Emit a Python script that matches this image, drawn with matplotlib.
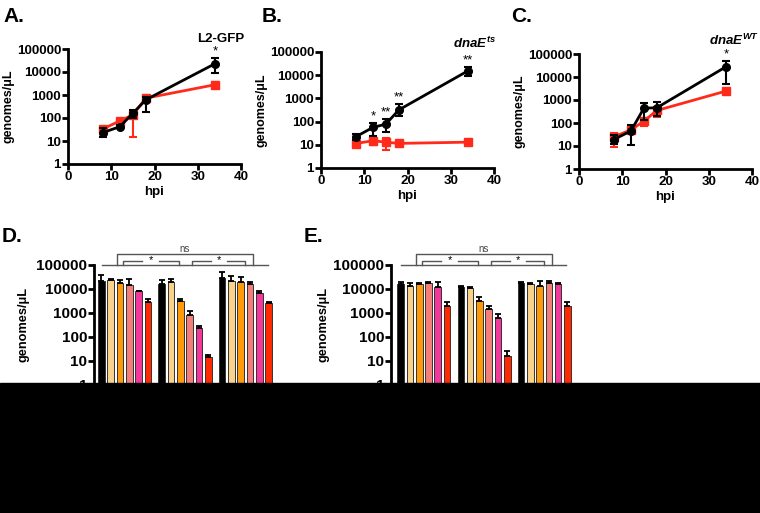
import numpy as np
import matplotlib
matplotlib.use("Agg")
import matplotlib.pyplot as plt
from matplotlib.patches import Rectangle
from matplotlib.ticker import FixedLocator, FixedFormatter, NullLocator

plt.rcParams["font.family"] = ["Liberation Sans", "DejaVu Sans"]
plt.rcParams["font.weight"] = "bold"
plt.rcParams["mathtext.fontset"] = "custom"
plt.rcParams["mathtext.it"] = "Liberation Sans:italic:bold"
plt.rcParams["mathtext.rm"] = "Liberation Sans:bold"

# time course data (hpi)
hpi = [8, 12, 15, 18, 34]

# panel A: L2-GFP
a_black = [23, 42, 160, 620, 23000]
a_black_lo = [15, 38, 100, 190, 9000]
a_black_hi = [36, 48, 220, 800, 40000]
a_red = [33, 75, 137, 730, 2800]
a_red_lo = [28, 55, 15, 560, 2000]
a_red_hi = [38, 95, 190, 870, 3600]
a_stars = ["", "", "", "", "*"]

# panel B: dnaE ts
b_black = [22, 56, 78, 320, 15500]
b_black_lo = [16, 23, 35, 175, 9500]
b_black_hi = [30, 90, 135, 560, 22000]
b_red = [11.3, 15, 13, 11.5, 13]
b_red_lo = [10, 10, 6, 10, 12]
b_red_hi = [12.5, 20, 20, 13, 14]
b_stars = ["", "*", "**", "**", "**"]

# panel C: dnaE WT
c_black = [19, 45, 440, 460, 28000]
c_black_lo = [12, 11, 140, 200, 5000]
c_black_hi = [30, 80, 760, 800, 50000]
c_red = [25, 50, 120, 350, 2450]
c_red_lo = [9, 35, 75, 180, 2200]
c_red_hi = [36, 65, 170, 520, 2700]
c_stars = ["", "", "", "", "*"]

# bar panels: 3 groups x 6 conditions
bar_colors = ["#000000", "#F8D28A", "#FF9A0A", "#F47F7A", "#F2389A", "#FF2A00"]

d_vals = [[22000, 23000, 18000, 14000, 8100, 2800],
          [16000, 19000, 3300, 810, 230, 14],
          [30000, 22000, 20000, 15600, 6600, 2600]]
d_errs = [[38000, 27000, 23000, 26000, 8500, 4000],
          [23000, 27000, 3700, 1200, 280, 17],
          [53000, 36000, 31000, 20000, 8000, 2750]]

e_vals = [[16000, 13500, 15500, 18000, 12000, 2000],
          [11700, 10500, 3200, 1500, 630, 16],
          [18000, 16000, 13700, 18000, 15500, 1900]]
e_errs = [[20000, 17000, 17000, 20000, 19000, 3000],
          [13000, 11700, 4800, 1900, 900, 26],
          [20000, 18500, 22000, 21500, 17000, 3000]]

W, H = 760, 513
fig = plt.figure(figsize=(W / 100, H / 100), dpi=100)


def ax_at(left, right, top, bottom):
    return fig.add_axes([left / W, 1 - bottom / H, (right - left) / W, (bottom - top) / H])


def style_log(ax, tsize, lsize, lx):
    ax.set_yscale("log")
    ax.set_ylim(1, 100000)
    yt = [1, 10, 100, 1000, 10000, 100000]
    ax.yaxis.set_major_locator(FixedLocator(yt))
    ax.yaxis.set_major_formatter(FixedFormatter([str(v) for v in yt]))
    ax.yaxis.set_minor_locator(NullLocator())
    for s in ["top", "right"]:
        ax.spines[s].set_visible(False)
    for s in ["left", "bottom"]:
        ax.spines[s].set_linewidth(2)
    ax.tick_params(width=2, length=4, labelsize=tsize, pad=1)
    for lab in ax.get_yticklabels() + ax.get_xticklabels():
        lab.set_fontweight("bold")
    ax.set_ylabel("genomes/μL", fontsize=lsize, fontweight="bold")
    ax.yaxis.set_label_coords(lx, 0.5)


def line_panel(ax, bk, bk_lo, bk_hi, rd, rd_lo, rd_hi, stars):
    rd_err = [np.subtract(rd, rd_lo), np.subtract(rd_hi, rd)]
    bk_err = [np.subtract(bk, bk_lo), np.subtract(bk_hi, bk)]
    ax.errorbar(hpi, rd, yerr=rd_err, color="#FF2A1A", marker="s", ms=5.5, lw=2,
                capsize=3, elinewidth=1.5, capthick=1.5, clip_on=False, zorder=3)
    ax.errorbar(hpi, bk, yerr=bk_err, color="black", marker="o", ms=5.5, lw=2,
                capsize=3, elinewidth=1.5, capthick=1.5, clip_on=False, zorder=4)
    for x, hi, s in zip(hpi, bk_hi, stars):
        if s:
            ax.text(x, hi * 1.05, s, ha="center", va="bottom", fontsize=9.5, fontweight="normal")
    ax.set_xlim(0, 40)
    ax.set_xticks([0, 10, 20, 30, 40])
    style_log(ax, 9.7, 9, -0.31)
    ax.set_xlabel("hpi", fontsize=9.5, fontweight="bold", labelpad=2)


axA = ax_at(68, 241, 49, 164)
line_panel(axA, a_black, a_black_lo, a_black_hi, a_red, a_red_lo, a_red_hi, a_stars)
axA.text(1.02, 1.09, "L2-GFP", transform=axA.transAxes, ha="right", va="center", fontsize=9.5, fontweight="bold")

axB = ax_at(321, 494, 52, 168)
line_panel(axB, b_black, b_black_lo, b_black_hi, b_red, b_red_lo, b_red_hi, b_stars)
axB.text(1.01, 1.07, r"$dnaE^{ts}$", transform=axB.transAxes, ha="right", va="center", fontsize=9.5)

axC = ax_at(579, 752, 54, 169)
line_panel(axC, c_black, c_black_lo, c_black_hi, c_red, c_red_lo, c_red_hi, c_stars)
axC.text(1.04, 1.12, r"$dnaE^{WT}$", transform=axC.transAxes, ha="right", va="center", fontsize=9.5)


def bar_panel(ax, vals, errs, xmin, xmax, lx):
    for g in range(3):
        for i in range(6):
            x = g * 6.5 + i
            v = vals[g][i]
            ax.bar(x, v, width=0.72, bottom=0.5, color=bar_colors[i], edgecolor="#333333", lw=0.7, zorder=2)
            ax.errorbar(x, v, yerr=[[0], [errs[g][i] - v]], color="black", capsize=2.5,
                        elinewidth=1.3, capthick=1.3, zorder=3)
    ax.set_xlim(xmin, xmax)
    ax.set_xticks([])
    style_log(ax, 11, 9.2, lx)
    # significance brackets
    tr = ax.get_xaxis_transform()
    kw = dict(color="#555555", lw=1, transform=tr, clip_on=False)
    ax.plot([0.05, 17.9], [1.0, 1.0], **kw)
    ax.plot([1.65, 1.65, 16.3, 16.3], [1.0, 1.09, 1.09, 1.0], **kw)
    ax.text(9.0, 1.09, "ns", transform=tr, ha="center", va="bottom", fontsize=7, fontweight="normal", color="#444444")
    for a, b in [(2.3, 8.3), (9.8, 15.5)]:
        m = (a + b) / 2
        ax.plot([a, a, m - 0.9], [1.0, 1.03, 1.03], **kw)
        ax.plot([m + 0.9, b, b], [1.03, 1.03, 1.0], **kw)
        ax.text(m, 1.0, "*", transform=tr, ha="center", va="bottom", fontsize=8, fontweight="normal")


axD = ax_at(94, 276, 265, 385)
bar_panel(axD, d_vals, d_errs, -0.8, 18.8, -0.357)
axE = ax_at(391, 572, 265, 385)
bar_panel(axE, e_vals, e_errs, -1.05, 18.5, -0.34)

# panel letters
for x, y, s in [(3, 16, "A."), (262, 16, "B."), (511, 16, "C."), (2, 236, "D."), (304, 236, "E.")]:
    fig.text(x / W, 1 - y / H, s, fontsize=15, fontweight="bold", va="center", ha="left")

# black band at the bottom of the image
fig.patches.append(Rectangle((0, 0), 1, (H - 383) / H, transform=fig.transFigure,
                             color="black", zorder=10))

fig.savefig("out.png", dpi=100)
